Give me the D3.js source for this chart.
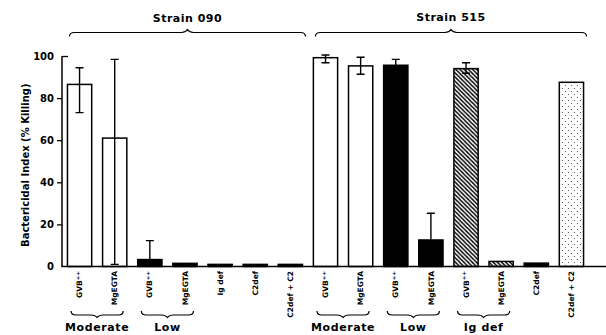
<!DOCTYPE html>
<html>
<head>
<meta charset="utf-8">
<script src="https://cdn.jsdelivr.net/npm/d3@7"></script>
<style>
body { margin: 0; background: #fff; }
svg text { font-family: "DejaVu Sans", sans-serif; font-weight: bold; fill: #000; }
</style>
</head>
<body>
<div id="chart"></div>
<script>
(function() {
"use strict"

var W = 606, H = 335;

// bars, left to right
var barLabels = ["GVB++","MgEGTA","GVB++","MgEGTA","Ig def","C2def","C2def + C2",
                 "GVB++","MgEGTA","GVB++","MgEGTA","GVB++","MgEGTA","C2def","C2def + C2"];
var barFill   = ["open","open","solid","solid","solid","solid","solid",
                 "open","open","solid","solid","hatch","hatch","solid","dots"];
var killing   = [86.5, 61, 3.3, 1.5, 1, 1, 1, 99.2, 95.3, 95.6, 12.6, 94, 2.4, 1.6, 87.5];
var errHigh   = [94.4, 98.4, 12.3, null, null, null, null, 100.5, 99.4, 98.4, 25.3, 96.8, null, null, null];
var errLow    = [73.1, 1, null, null, null, null, null, 96.8, 91.3, null, null, 91.8, null, null, null];

// strain brackets (first and last bar index)
var strainNames = ["Strain 090", "Strain 515"];
var strainFirst = [0, 7];
var strainLast  = [6, 14];

// complement groups under the axis (pairs of bars)
var groupNames = ["Moderate", "Low", "Moderate", "Low", "Ig def"];
var groupFirst = [0, 2, 7, 9, 11];

var yTicks = [0, 20, 40, 60, 80, 100];

var svg = d3.select("#chart").append("svg")
    .attr("width", W)
    .attr("height", H);

var defs = svg.append("defs");
var hatch = defs.append("pattern")
    .attr("id", "hatch")
    .attr("patternUnits", "userSpaceOnUse")
    .attr("width", 4.2).attr("height", 4.2);
hatch.append("rect").attr("width", 4.2).attr("height", 4.2).attr("fill", "#fff");
hatch.append("path")
    .attr("d", "M-1,-1L5.2,5.2M3.2,-1L5.2,1M-1,3.2L1,5.2")
    .attr("stroke", "#000").attr("stroke-width", 1.4);

var dots = defs.append("pattern")
    .attr("id", "dots")
    .attr("patternUnits", "userSpaceOnUse")
    .attr("width", 6).attr("height", 6);
dots.append("rect").attr("width", 6).attr("height", 6).attr("fill", "#fff");
dots.append("circle").attr("cx", 1.5).attr("cy", 1.5).attr("r", 0.6).attr("fill", "#444");
dots.append("circle").attr("cx", 4.5).attr("cy", 4.5).attr("r", 0.6).attr("fill", "#444");

var fillOf = {open: "#fff", solid: "#000", hatch: "url(#hatch)", dots: "url(#dots)"};

//scales
var x = d3.scaleBand()
    .domain(d3.range(barLabels.length))
    .range([62, 589])
    .paddingInner(0.31)
    .paddingOuter(0.155);

var y = d3.scaleLinear()
    .domain([0, 100])
    .range([266.5, 56]);

var bw = x.bandwidth();
var cx = function(i) { return x(i) + bw / 2; };

//y axis
var yAxis = svg.append("g")
    .attr("transform", "translate(62,0)")
    .call(d3.axisLeft(y).tickValues(yTicks).tickSize(5).tickPadding(3));
yAxis.select(".domain").attr("d", "M0," + y(0) + "V" + y(100)).attr("stroke-width", 1.5);
yAxis.selectAll(".tick line").attr("stroke-width", 1.3)
    .filter(function(d) { return d === 100; }).attr("x2", 6);
yAxis.selectAll(".tick line").filter(function(d) { return d === 0; }).remove();
yAxis.selectAll(".tick text")
    .style("font-family", "'DejaVu Sans', sans-serif")
    .style("font-weight", "bold")
    .style("font-size", "10px");

svg.append("text")
    .attr("transform", "translate(29," + ((y(0) + y(100)) / 2 + 4) + ") rotate(-90)")
    .attr("text-anchor", "middle")
    .style("font-size", "10px")
    .text("Bactericidal Index (% Killing)");

//bars
svg.append("g").selectAll("rect")
    .data(killing)
    .join("rect")
    .attr("x", function(d, i) { return x(i); })
    .attr("y", function(d) { return y(d); })
    .attr("width", bw)
    .attr("height", function(d) { return y(0) - y(d); })
    .attr("fill", function(d, i) { return fillOf[barFill[i]]; })
    .attr("stroke", "#000")
    .attr("stroke-width", 1.5);

//error bars
var err = svg.append("g").attr("stroke", "#000").attr("stroke-width", 1.4).attr("fill", "none");
killing.forEach(function(v, i) {
    var c = cx(i);
    if (errHigh[i] !== null) {
        err.append("path").attr("d",
            "M" + c + "," + y(v) + "V" + y(errHigh[i]) + "M" + (c - 4) + "," + y(errHigh[i]) + "H" + (c + 4));
    }
    if (errLow[i] !== null) {
        err.append("path").attr("d",
            "M" + c + "," + y(v) + "V" + y(errLow[i]) + "M" + (c - 4) + "," + y(errLow[i]) + "H" + (c + 4));
    }
});

//x baseline
svg.append("line")
    .attr("x1", 61.25).attr("x2", W)
    .attr("y1", y(0)).attr("y2", y(0))
    .attr("stroke", "#000").attr("stroke-width", 1.5);

//bar labels (rotated)
var lab = svg.append("g").selectAll("text")
    .data(barLabels)
    .join("text")
    .attr("transform", function(d, i) { return "translate(" + cx(i) + ",271) rotate(-90)"; })
    .attr("dy", "0.35em")
    .attr("text-anchor", "end")
    .style("font-size", "7.5px");
lab.each(function(d) {
    var t = d3.select(this);
    if (d.slice(-2) === "++") {
        t.append("tspan").text(d.slice(0, -2));
        t.append("tspan").attr("dy", "-0.45em").style("font-size", "5.5px").text("++");
    } else {
        t.text(d);
    }
});

//curly brace: opens towards dir (+1 down, -1 up)
var brace = function(x1, x2, yl, dir, tip, end) {
    var xm = (x1 + x2) / 2;
    return "M" + x1 + "," + (yl + dir * end) +
        "Q" + x1 + "," + yl + " " + (x1 + 5) + "," + yl +
        "H" + (xm - 6) +
        "Q" + (xm - 2) + "," + yl + " " + xm + "," + (yl - dir * tip) +
        "Q" + (xm + 2) + "," + yl + " " + (xm + 6) + "," + yl +
        "H" + (x2 - 5) +
        "Q" + x2 + "," + yl + " " + x2 + "," + (yl + dir * end);
};

//strain brackets on top
strainNames.forEach(function(s, k) {
    var x1 = x(strainFirst[k]) + 2, x2 = x(strainLast[k]) + bw + 3;
    svg.append("path")
        .attr("d", brace(x1, x2, 32.5, 1, 3, 4))
        .attr("fill", "none").attr("stroke", "#000").attr("stroke-width", 1.2);
    svg.append("text")
        .attr("x", (x1 + x2) / 2)
        .attr("y", 22 - k)
        .attr("text-anchor", "middle")
        .style("font-size", "11px")
        .style("letter-spacing", "0.5px")
        .text(s);
});

//group braces under labels
groupNames.forEach(function(g, k) {
    var x1 = cx(groupFirst[k]) - 8.5, x2 = cx(groupFirst[k] + 1) + 8.5;
    svg.append("path")
        .attr("d", brace(x1, x2, 315, -1, 2.5, 4))
        .attr("fill", "none").attr("stroke", "#000").attr("stroke-width", 1.2);
    svg.append("text")
        .attr("x", (x1 + x2) / 2)
        .attr("y", 331)
        .attr("text-anchor", "middle")
        .style("font-size", "11px")
        .style("letter-spacing", "0.6px")
        .text(g);
});
})();
</script>
</body>
</html>
